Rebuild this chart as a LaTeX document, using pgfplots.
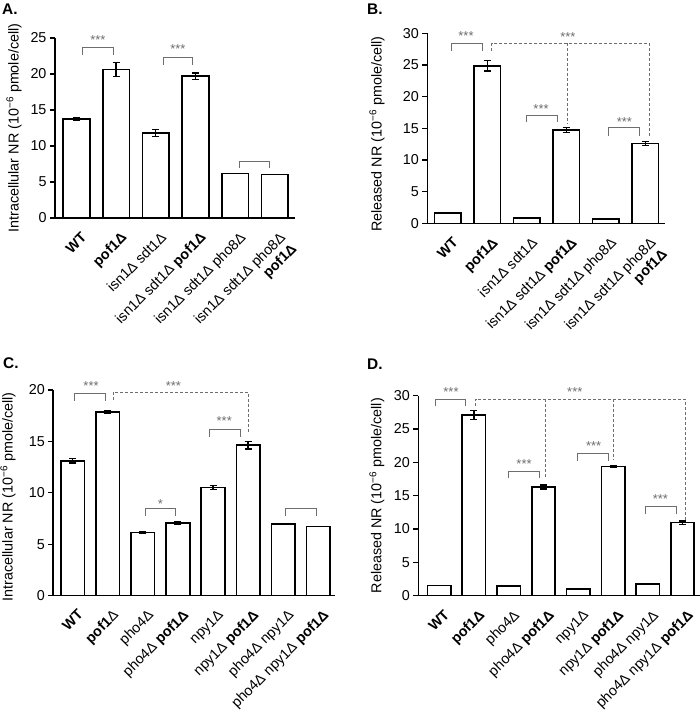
\documentclass[border=0pt]{standalone}
\usepackage{fontspec}
\setmainfont{Liberation Sans}
\usepackage{pgfplots}
\pgfplotsset{compat=1.18}
\definecolor{brgray}{HTML}{6E6E6E}

\tikzset{
  brk/.style={brgray, line width=1bp},
  dsh/.style={brgray, line width=1bp, dash pattern=on 3bp off 2bp},
  stars/.style={brgray, font=\fontsize{13}{14}\selectfont, inner sep=0pt, yshift=-2.5bp},
  ttl/.style={anchor=north west, inner sep=0pt, font=\bfseries\fontsize{15.5}{17}\selectfont},
}
% bracket: x-left, x-right, leg bottom, top
\newcommand{\brk}[4]{\draw[brk] (axis cs:#1,#3) |- (axis cs:#2,#4) -- (axis cs:#2,#3);}
\newcommand{\stars}[3]{\node[stars] at (axis cs:#1,#2) {#3};}

\pgfplotsset{
  panel/.style={
    scale only axis, ybar, bar width=0.67, ymin=0, enlargelimits=false, clip=false,
    axis x line=bottom, axis y line=left,
    axis line style={-, line width=1.6bp, black},
    xtick=data, xtick style={draw=none},
    ytick style={line width=1.2bp, black}, tick align=outside, major tick length=5bp,
    /pgf/number format/assume math mode=true,
    tick label style={font=\fontsize{14.4}{16}\selectfont},
    xticklabel style={xshift=4bp, yshift=-8bp, rotate=45, anchor=north east, align=right, inner sep=0pt},
    ylabel style={font=\fontsize{14.4}{16}\selectfont, anchor=center},
  },
  barplot/.style={fill=white, draw=black, line width=1.6bp,
    error bars/.cd, y dir=both, y explicit,
    error bar style={line width=1.2bp, black},
    error mark options={line width=1.2bp, mark size=3.5bp, rotate=90}},
}

\pgfplotstableread{
x y e
0 13.75 0.2
1 20.6 1.0
2 11.8 0.5
3 19.7 0.45
4 6.2 0
5 6.05 0
}\dataA
\pgfplotstableread{
x y e
0 1.6 0
1 24.85 0.8
2 0.9 0
3 14.7 0.4
4 0.65 0
5 12.6 0.35
}\dataB
\pgfplotstableread{
x y e
0 13.1 0.2
1 17.84 0.15
2 6.15 0.1
3 7.06 0.1
4 10.5 0.2
5 14.62 0.37
6 6.96 0.05
7 6.7 0
}\dataC
\pgfplotstableread{
x y e
0 1.5 0
1 27.1 0.73
2 1.4 0
3 16.3 0.3
4 1.0 0
5 19.36 0.1
6 1.7 0
7 10.95 0.25
}\dataD

\begin{document}
\begin{tikzpicture}
\useasboundingbox (0,0) rectangle (700bp,-712bp);

\node[ttl] at (2bp,-4bp) {A.};
\node[ttl] at (367bp,-4bp) {B.};
\node[ttl] at (3bp,-358bp) {C.};
\node[ttl] at (367bp,-359bp) {D.};

% A
\begin{axis}[panel, at={(55bp,-218bp)}, anchor=south west,
  width=240bp, height=180bp, xmin=-0.54, xmax=5.51, ymax=25,
  ytick={0,5,...,25},
  xticklabels={{\textbf{WT}},{\textbf{pof1Δ}},{isn1Δ sdt1Δ},{isn1Δ sdt1Δ \textbf{pof1Δ}},{isn1Δ sdt1Δ pho8Δ},{isn1Δ sdt1Δ pho8Δ\\\textbf{pof1Δ}}},
  ylabel={Intracellular NR (10\textsuperscript{−6} pmole/cell)},
  ylabel style={at={(axis description cs:-0.171,0.5)}}]
\addplot[barplot] table[x=x, y=y, y error=e] {\dataA};
\brk{0.16}{0.94}{22.6}{23.65}
\stars{0.54}{25.0}{***}
\brk{2.19}{2.93}{21.25}{22.3}
\stars{2.56}{23.8}{***}
\brk{4.12}{4.87}{6.9}{7.9}
\end{axis}

% B
\begin{axis}[panel, at={(427.3bp,-223.4bp)}, anchor=south west,
  width=237.7bp, height=190.1bp, xmin=-0.52, xmax=5.5, ymax=30,
  ytick={0,5,...,30},
  xticklabels={{\textbf{WT}},{\textbf{pof1Δ}},{isn1Δ sdt1Δ},{isn1Δ sdt1Δ \textbf{pof1Δ}},{isn1Δ sdt1Δ pho8Δ},{isn1Δ sdt1Δ pho8Δ\\\textbf{pof1Δ}}},
  ylabel={Released NR (10\textsuperscript{−6} pmole/cell)},
  ylabel style={at={(axis description cs:-0.212,0.47)}}]
\addplot[barplot] table[x=x, y=y, y error=e] {\dataB};
\brk{0.1}{0.89}{27.2}{28.4}
\stars{0.46}{30.0}{***}
\draw[dsh] (axis cs:1.11,27.2) |- (axis cs:5.1,28.4) -- (axis cs:5.1,13.7);
\draw[dsh] (axis cs:3.04,28.4) -- (axis cs:3.04,15.7);
\stars{3.04}{29.8}{***}
\brk{2.0}{2.78}{15.95}{17.1}
\stars{2.36}{18.4}{***}
\brk{4.08}{4.85}{13.8}{15.1}
\stars{4.47}{16.4}{***}
\end{axis}

% C
\begin{axis}[panel, at={(53.3bp,-595.5bp)}, anchor=south west,
  width=281.7bp, height=205.5bp, xmin=-0.557, xmax=7.48, ymax=20,
  ytick={0,5,...,20},
  xticklabels={{\textbf{WT}},{\textbf{pof1}Δ},{pho4Δ},{pho4Δ \textbf{pof1Δ}},{npy1Δ},{npy1Δ \textbf{pof1Δ}},{pho4Δ npy1Δ},{pho4Δ npy1Δ \textbf{pof1Δ}}},
  ylabel={Intracellular NR (10\textsuperscript{−6} pmole/cell)},
  ylabel style={at={(axis description cs:-0.161,0.48)}}]
\addplot[barplot] table[x=x, y=y, y error=e] {\dataC};
\brk{0.06}{0.94}{18.97}{19.7}
\stars{0.52}{20.66}{***}
\draw[dsh] (axis cs:1.16,19.0) |- (axis cs:5.01,19.8) -- (axis cs:5.01,15.8);
\stars{2.87}{20.66}{***}
\brk{2.06}{2.94}{7.74}{8.42}
\stars{2.5}{9.1}{*}
\brk{3.9}{4.77}{15.46}{16.2}
\stars{4.32}{17.2}{***}
\brk{6.07}{6.95}{7.74}{8.42}
\end{axis}

% D
\begin{axis}[panel, at={(418.3bp,-595.6bp)}, anchor=south west,
  width=281.7bp, height=199.9bp, xmin=-0.6, xmax=7.5, ymax=30,
  ytick={0,5,...,30},
  xticklabels={{\textbf{WT}},{\textbf{pof1Δ}},{pho4Δ},{pho4Δ \textbf{pof1Δ}},{npy1Δ},{npy1Δ \textbf{pof1Δ}},{pho4Δ npy1Δ},{pho4Δ npy1Δ \textbf{pof1Δ}}},
  ylabel={Released NR (10\textsuperscript{−6} pmole/cell)},
  ylabel style={at={(axis description cs:-0.147,0.5)}}]
\addplot[barplot] table[x=x, y=y, y error=e] {\dataD};
\brk{-0.1}{0.77}{28.4}{29.5}
\stars{0.34}{31.0}{***}
\draw[dsh] (axis cs:1.05,28.4) |- (axis cs:7.07,29.5) -- (axis cs:7.07,11.35);
\draw[dsh] (axis cs:3.05,29.5) -- (axis cs:3.05,17.5);
\draw[dsh] (axis cs:5.02,29.5) -- (axis cs:5.02,20.4);
\stars{3.9}{30.9}{***}
\brk{1.98}{2.88}{17.6}{18.7}
\stars{2.44}{20.1}{***}
\brk{3.99}{4.87}{20.25}{21.4}
\stars{4.44}{22.8}{***}
\brk{5.94}{6.82}{12.2}{13.35}
\stars{6.36}{14.8}{***}
\end{axis}
\end{tikzpicture}
\end{document}
